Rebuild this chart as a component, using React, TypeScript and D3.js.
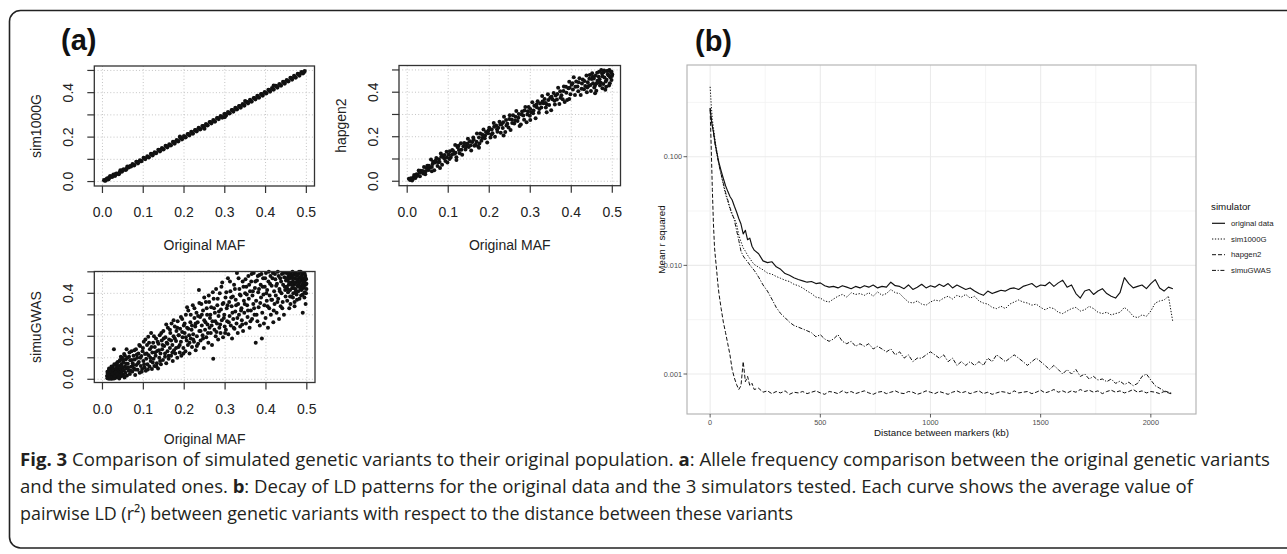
import React from "react";
import * as d3 from "d3";

const FONT = "'Liberation Sans', Arial, Helvetica, sans-serif";
const CAP_FONT = "'Open Sans', 'Noto Sans', sans-serif";

// ---------------- panel (a): allele frequency scatter plots ----------------
const mafTicks = [0, 0.1, 0.2, 0.3, 0.4, 0.5];
const mafTickLabelsX = ["0.0", "0.1", "0.2", "0.3", "0.4", "0.5"];
const mafTickLabelsY = ["0.0", "", "0.2", "", "0.4", ""];

const sim1000GPoints: [number, number][] = [
  [0.004,0.006],[0.008,0.005],[0.012,0.014],[0.015,0.010],[0.019,0.025],[0.023,0.021],[0.027,0.031],[0.031,0.026],[0.035,0.036],[0.040,0.033],
  [0.044,0.050],[0.048,0.045],[0.052,0.055],[0.057,0.052],[0.061,0.067],[0.065,0.064],[0.070,0.068],[0.074,0.079],[0.078,0.073],[0.083,0.089],
  [0.087,0.082],[0.092,0.095],[0.096,0.092],[0.101,0.107],[0.105,0.101],[0.110,0.113],[0.114,0.109],[0.119,0.125],[0.123,0.118],[0.128,0.131],
  [0.132,0.128],[0.137,0.143],[0.141,0.136],[0.146,0.150],[0.150,0.145],[0.155,0.161],[0.159,0.154],[0.164,0.167],[0.168,0.163],[0.173,0.179],
  [0.177,0.171],[0.182,0.186],[0.186,0.181],[0.191,0.197],[0.195,0.190],[0.200,0.205],[0.204,0.199],[0.209,0.214],[0.213,0.208],[0.218,0.224],
  [0.222,0.216],[0.227,0.231],[0.231,0.226],[0.236,0.242],[0.240,0.235],[0.245,0.250],[0.249,0.243],[0.254,0.259],[0.258,0.253],[0.263,0.268],
  [0.267,0.262],[0.272,0.277],[0.276,0.270],[0.281,0.286],[0.285,0.281],[0.290,0.295],[0.294,0.288],[0.299,0.304],[0.303,0.297],[0.308,0.313],
  [0.312,0.307],[0.317,0.322],[0.321,0.315],[0.326,0.332],[0.330,0.325],[0.335,0.340],[0.339,0.333],[0.344,0.349],[0.348,0.342],[0.353,0.358],
  [0.357,0.352],[0.362,0.368],[0.366,0.360],[0.371,0.376],[0.375,0.370],[0.380,0.386],[0.384,0.378],[0.389,0.394],[0.393,0.387],[0.398,0.403],
  [0.402,0.397],[0.407,0.413],[0.411,0.405],[0.416,0.421],[0.420,0.414],[0.425,0.431],[0.429,0.423],[0.434,0.439],[0.438,0.432],[0.443,0.449],
  [0.447,0.441],[0.452,0.457],[0.456,0.451],[0.461,0.467],[0.465,0.459],[0.470,0.476],[0.474,0.468],[0.479,0.485],[0.483,0.477],[0.488,0.492],
  [0.492,0.487],[0.496,0.497],
  [0.006,0.004],[0.010,0.011],[0.017,0.019],[0.025,0.023],[0.033,0.035],[0.042,0.040],[0.050,0.052],[0.059,0.057],[0.068,0.070],[0.076,0.074],
  [0.085,0.087],[0.094,0.092],[0.103,0.104],[0.112,0.110],[0.121,0.123],[0.130,0.128],[0.139,0.141],[0.148,0.146],[0.157,0.158],[0.166,0.164],
  [0.175,0.177],[0.184,0.182],[0.193,0.195],[0.202,0.200],[0.211,0.213],[0.220,0.218],[0.229,0.231],[0.238,0.236],[0.247,0.249],[0.256,0.254],
  [0.265,0.267],[0.274,0.272],[0.283,0.285],[0.292,0.290],[0.301,0.303],[0.310,0.308],[0.319,0.321],[0.328,0.326],[0.337,0.339],[0.346,0.344],
  [0.355,0.357],[0.364,0.362],[0.373,0.375],[0.382,0.380],[0.391,0.393],[0.400,0.398],[0.409,0.411],[0.418,0.416],[0.427,0.429],[0.436,0.434],
  [0.445,0.447],[0.454,0.452],[0.463,0.465],[0.472,0.470],[0.481,0.483],[0.490,0.488],[0.494,0.493],
  [0.190,0.202],[0.300,0.290],[0.420,0.432],[0.350,0.362],[0.250,0.238],
];

const hapgen2Points: [number, number][] = [
  [0.004,0.011],[0.007,0.0055],[0.009,0.014],[0.012,0.0036],[0.015,0.018],[0.017,0.028],[0.020,0.015],[0.023,0.031],[0.025,0.026],[0.028,0.048],
  [0.031,0.022],[0.033,0.047],[0.036,0.041],[0.039,0.035],[0.041,0.064],[0.044,0.031],[0.047,0.059],[0.049,0.070],[0.052,0.050],[0.055,0.061],
  [0.058,0.098],[0.060,0.064],[0.063,0.088],[0.066,0.049],[0.068,0.084],[0.071,0.105],[0.074,0.069],[0.077,0.099],[0.079,0.086],[0.082,0.125],
  [0.085,0.074],[0.087,0.115],[0.090,0.103],[0.093,0.091],[0.096,0.133],[0.098,0.084],[0.101,0.120],[0.104,0.135],[0.106,0.107],[0.109,0.119],
  [0.112,0.136],[0.115,0.123],[0.117,0.163],[0.120,0.108],[0.123,0.153],[0.126,0.140],[0.128,0.126],[0.131,0.171],[0.134,0.119],[0.137,0.157],
  [0.139,0.172],[0.142,0.143],[0.145,0.156],[0.148,0.191],[0.150,0.154],[0.153,0.180],[0.156,0.138],[0.159,0.176],[0.161,0.197],[0.164,0.159],
  [0.167,0.164],[0.170,0.214],[0.173,0.156],[0.175,0.197],[0.178,0.215],[0.181,0.182],[0.184,0.195],[0.186,0.233],[0.189,0.193],[0.192,0.221],
  [0.195,0.174],[0.197,0.216],[0.200,0.240],[0.203,0.196],[0.206,0.232],[0.208,0.216],[0.211,0.262],[0.214,0.200],[0.217,0.250],[0.219,0.234],
  [0.222,0.240],[0.225,0.267],[0.228,0.218],[0.230,0.256],[0.233,0.239],[0.236,0.290],[0.239,0.221],[0.241,0.275],[0.244,0.258],[0.247,0.241],
  [0.250,0.296],[0.252,0.230],[0.255,0.277],[0.258,0.296],[0.261,0.259],[0.263,0.273],[0.266,0.316],[0.269,0.271],[0.272,0.302],[0.274,0.248],
  [0.277,0.255],[0.280,0.313],[0.283,0.295],[0.285,0.276],[0.288,0.334],[0.291,0.265],[0.294,0.314],[0.296,0.333],[0.299,0.294],[0.302,0.310],
  [0.305,0.355],[0.307,0.306],[0.310,0.339],[0.313,0.283],[0.316,0.332],[0.318,0.359],[0.321,0.308],[0.324,0.349],[0.327,0.331],[0.329,0.383],
  [0.332,0.350],[0.335,0.370],[0.338,0.331],[0.340,0.346],[0.343,0.391],[0.346,0.343],[0.349,0.376],[0.351,0.319],[0.354,0.368],[0.357,0.396],
  [0.360,0.345],[0.362,0.385],[0.365,0.367],[0.368,0.420],[0.371,0.347],[0.373,0.404],[0.376,0.386],[0.379,0.368],[0.382,0.426],[0.384,0.356],
  [0.387,0.425],[0.390,0.365],[0.393,0.418],[0.395,0.447],[0.398,0.391],[0.401,0.434],[0.404,0.412],[0.406,0.467],[0.409,0.387],[0.412,0.448],
  [0.415,0.426],[0.417,0.404],[0.420,0.463],[0.423,0.388],[0.426,0.439],[0.428,0.457],[0.431,0.413],[0.434,0.428],[0.437,0.475],[0.439,0.421],
  [0.442,0.428],[0.445,0.477],[0.448,0.406],[0.450,0.459],[0.453,0.440],[0.456,0.421],[0.459,0.474],[0.461,0.407],[0.464,0.452],[0.467,0.469],
  [0.470,0.430],[0.472,0.443],[0.475,0.484],[0.478,0.437],[0.481,0.466],[0.483,0.411],[0.486,0.456],[0.489,0.481],[0.492,0.430],[0.495,0.467],
  [0.480,0.497],[0.490,0.496],[0.497,0.488],[0.485,0.425],[0.468,0.492],[0.498,0.455],[0.476,0.418],[0.463,0.487],[0.452,0.470],[0.458,0.395],
  [0.444,0.460],[0.493,0.500],[0.499,0.473],
  [0.014,0.010],[0.022,0.022],[0.030,0.038],[0.038,0.046],[0.045,0.045],[0.053,0.070],[0.062,0.078],[0.069,0.092],[0.076,0.085],[0.083,0.110],
  [0.091,0.118],[0.097,0.108],[0.103,0.100],[0.110,0.140],[0.118,0.128],[0.125,0.160],[0.132,0.142],[0.140,0.160],[0.147,0.170],[0.155,0.162],
  [0.162,0.188],[0.169,0.178],[0.176,0.170],[0.183,0.210],[0.190,0.205],[0.198,0.228],[0.205,0.210],[0.212,0.245],[0.220,0.222],[0.227,0.255],
  [0.234,0.265],[0.242,0.250],[0.249,0.280],[0.256,0.262],[0.264,0.290],[0.271,0.285],[0.279,0.300],[0.286,0.318],[0.293,0.300],[0.300,0.325],
  [0.308,0.318],[0.315,0.345],[0.322,0.325],[0.330,0.358],[0.337,0.352],[0.344,0.365],[0.352,0.380],[0.359,0.362],[0.366,0.392],[0.374,0.375],
  [0.381,0.405],[0.388,0.398],[0.396,0.420],[0.403,0.440],[0.410,0.425],[0.418,0.445],[0.425,0.415],[0.432,0.450],[0.440,0.445],[0.447,0.432],
  [0.455,0.462],[0.462,0.440],[0.469,0.458],[0.476,0.472],[0.484,0.448],[0.491,0.475],[0.498,0.492],[0.487,0.495],[0.473,0.500],[0.479,0.490],
  [0.466,0.445],[0.458,0.430],[0.438,0.400],[0.451,0.485],[0.500,0.480],[0.494,0.440],[0.175,0.150],[0.235,0.205],[0.300,0.275],[0.120,0.095],
  [0.080,0.060],[0.060,0.045],[0.340,0.310],[0.395,0.370],
];

const simuGWASPoints: [number, number][] = [
  [0.012,0.005],[0.013,0.028],[0.014,0.012],[0.015,0.040],[0.016,0.002],[0.017,0.020],[0.018,0.034],[0.019,0.008],[0.020,0.048],[0.021,0.016],
  [0.022,0.026],[0.023,0.003],[0.024,0.038],[0.025,0.058],[0.026,0.012],[0.027,0.030],[0.028,0.140],[0.029,0.020],[0.030,0.045],[0.031,0.006],
  [0.032,0.066],[0.033,0.024],[0.034,0.036],[0.035,0.010],[0.036,0.052],[0.037,0.080],[0.038,0.018],[0.039,0.040],[0.040,0.062],[0.041,0.004],
  [0.042,0.030],[0.043,0.090],[0.044,0.048],[0.045,0.014],[0.046,0.070],[0.047,0.035],[0.048,0.100],[0.049,0.055],[0.050,0.022],[0.051,0.078],
  [0.052,0.042],[0.053,0.118],[0.054,0.008],[0.055,0.060],[0.056,0.030],[0.057,0.092],[0.058,0.050],[0.059,0.140],[0.060,0.018],
  [0.062,0.072],[0.064,0.040],[0.065,0.105],[0.067,0.025],[0.068,0.088],[0.070,0.058],[0.071,0.130],[0.073,0.036],[0.074,0.075],[0.076,0.110],
  [0.077,0.050],[0.079,0.092],[0.080,0.020],[0.082,0.140],[0.083,0.066],[0.085,0.100],[0.086,0.044],[0.088,0.120],[0.089,0.080],[0.091,0.030],
  [0.092,0.155],[0.094,0.062],[0.095,0.108],[0.097,0.048],[0.098,0.130],[0.100,0.085],[0.101,0.175],[0.103,0.055],[0.104,0.118],[0.106,0.040],
  [0.107,0.095],[0.109,0.160],[0.110,0.070],[0.112,0.198],[0.113,0.112],[0.115,0.060],[0.116,0.140],[0.118,0.085],[0.119,0.215],[0.121,0.048],
  [0.122,0.125],[0.124,0.170],[0.125,0.095],[0.127,0.062],[0.128,0.150],[0.130,0.110],[0.131,0.190],[0.133,0.075],[0.134,0.132],[0.136,0.050],
  [0.137,0.165],[0.139,0.100],[0.140,0.205],[0.142,0.120],[0.143,0.070],[0.145,0.180],[0.146,0.140],[0.148,0.090],[0.149,0.225],
  [0.151,0.155],[0.153,0.105],[0.154,0.195],[0.156,0.075],[0.157,0.170],[0.159,0.130],[0.160,0.240],[0.162,0.095],[0.163,0.185],[0.165,0.145],
  [0.166,0.215],[0.168,0.110],[0.169,0.260],[0.171,0.160],[0.172,0.085],[0.174,0.200],[0.175,0.135],[0.177,0.245],[0.178,0.120],[0.180,0.178],
  [0.181,0.225],[0.183,0.100],[0.184,0.270],[0.186,0.150],[0.187,0.205],[0.189,0.125],[0.190,0.235],[0.192,0.175],[0.193,0.110],[0.195,0.280],
  [0.196,0.195],[0.198,0.145],[0.199,0.250],[0.201,0.215],[0.203,0.130],[0.204,0.300],[0.206,0.180],[0.207,0.240],[0.209,0.160],[0.210,0.320],
  [0.212,0.205],[0.213,0.120],[0.215,0.265],[0.216,0.190],[0.218,0.230],[0.219,0.150],[0.221,0.345],[0.222,0.210],[0.224,0.175],[0.225,0.285],
  [0.227,0.245],[0.228,0.135],[0.230,0.310],[0.231,0.200],[0.233,0.265],[0.234,0.165],[0.236,0.415],[0.237,0.225],[0.239,0.290],[0.240,0.180],
  [0.242,0.350],[0.243,0.250],[0.245,0.205],[0.246,0.320],[0.248,0.145],[0.249,0.275],
  [0.251,0.230],[0.253,0.360],[0.254,0.195],[0.256,0.300],[0.257,0.255],[0.259,0.170],[0.260,0.390],[0.262,0.240],[0.263,0.285],[0.265,0.215],
  [0.266,0.335],[0.268,0.160],[0.269,0.270],[0.271,0.095],[0.272,0.375],[0.274,0.230],[0.275,0.310],[0.277,0.200],[0.278,0.420],[0.280,0.260],
  [0.281,0.345],[0.283,0.185],[0.284,0.295],[0.286,0.240],[0.287,0.400],[0.289,0.215],[0.290,0.325],[0.292,0.275],[0.293,0.450],[0.295,0.195],
  [0.296,0.355],[0.298,0.300],[0.299,0.245],[0.301,0.380],[0.302,0.230],[0.304,0.330],[0.305,0.270],[0.307,0.470],[0.308,0.210],[0.310,0.360],
  [0.311,0.295],[0.313,0.410],[0.314,0.250],[0.316,0.340],[0.317,0.190],[0.319,0.385],[0.320,0.280],[0.322,0.440],[0.323,0.235],[0.325,0.315],
  [0.326,0.370],[0.328,0.260],[0.329,0.495],[0.331,0.215],[0.332,0.350],[0.334,0.300],[0.335,0.420],[0.337,0.245],[0.338,0.390],[0.340,0.330],
  [0.341,0.275],[0.343,0.455],[0.344,0.225],[0.346,0.365],[0.347,0.310],[0.349,0.400],
  [0.351,0.260],[0.352,0.430],[0.354,0.345],[0.355,0.290],[0.357,0.480],[0.358,0.375],[0.360,0.240],[0.361,0.410],[0.363,0.320],[0.364,0.455],
  [0.366,0.280],[0.367,0.390],[0.369,0.350],[0.370,0.495],[0.372,0.300],[0.373,0.425],[0.375,0.170],[0.376,0.365],[0.378,0.460],[0.379,0.270],
  [0.381,0.405],[0.382,0.335],[0.384,0.485],[0.385,0.250],[0.387,0.440],[0.388,0.380],[0.390,0.190],[0.391,0.310],[0.393,0.470],[0.394,0.395],
  [0.396,0.345],[0.397,0.430],[0.399,0.285],[0.400,0.495],[0.402,0.365],[0.403,0.415],[0.405,0.240],[0.406,0.455],[0.408,0.330],[0.409,0.390],
  [0.411,0.480],[0.412,0.300],[0.414,0.435],[0.415,0.370],[0.417,0.495],[0.418,0.265],[0.420,0.410],[0.421,0.350],[0.423,0.465],[0.424,0.390],
  [0.426,0.310],[0.427,0.445],[0.429,0.500],[0.430,0.375],[0.432,0.280],[0.433,0.420],[0.435,0.470],[0.436,0.340],[0.438,0.400],[0.439,0.490],
  [0.441,0.360],[0.442,0.440],[0.444,0.300],[0.445,0.475],[0.447,0.415],[0.448,0.385],
  [0.450,0.495],[0.451,0.430],[0.452,0.365],[0.453,0.460],[0.454,0.405],[0.455,0.480],[0.456,0.440],[0.457,0.330],[0.458,0.470],[0.459,0.415],
  [0.460,0.490],[0.461,0.450],[0.462,0.385],[0.463,0.475],[0.464,0.425],[0.465,0.500],[0.466,0.455],[0.467,0.400],[0.468,0.485],[0.469,0.440],
  [0.470,0.360],[0.471,0.470],[0.472,0.420],[0.473,0.495],[0.474,0.450],[0.475,0.395],[0.476,0.480],[0.477,0.435],[0.478,0.465],[0.479,0.410],
  [0.480,0.490],[0.481,0.445],[0.482,0.375],[0.483,0.475],[0.484,0.430],[0.485,0.500],[0.486,0.460],[0.487,0.415],[0.488,0.485],[0.489,0.440],
  [0.490,0.395],[0.491,0.470],[0.492,0.425],[0.493,0.495],[0.494,0.455],[0.495,0.405],[0.496,0.480],[0.497,0.440],[0.498,0.465],[0.499,0.420],
  [0.490,0.310],[0.497,0.350],[0.470,0.340],[0.460,0.350],
  [0.011,0.015],[0.012,0.035],[0.014,0.022],[0.015,0.008],[0.016,0.050],[0.018,0.016],[0.019,0.028],[0.020,0.004],[0.021,0.036],[0.022,0.060],
  [0.024,0.010],[0.025,0.025],[0.026,0.045],[0.028,0.004],[0.029,0.070],[0.030,0.015],[0.032,0.032],[0.033,0.050],[0.035,0.075],[0.036,0.025],
  [0.038,0.060],[0.040,0.010],[0.042,0.085],[0.044,0.020],[0.045,0.105],[0.047,0.058],[0.050,0.090],[0.052,0.015],[0.055,0.110],[0.058,0.072],
  [0.061,0.100],[0.063,0.055],[0.066,0.125],[0.069,0.040],[0.072,0.090],[0.075,0.065],[0.078,0.135],[0.081,0.045],[0.084,0.115],[0.087,0.075],
  [0.090,0.160],[0.093,0.100],[0.096,0.035],[0.099,0.145],[0.102,0.070],[0.105,0.185],[0.108,0.120],[0.111,0.045],[0.114,0.170],[0.117,0.100],
  [0.120,0.150],[0.123,0.078],[0.126,0.200],[0.129,0.125],[0.132,0.060],[0.135,0.175],[0.138,0.135],[0.141,0.085],[0.144,0.215],[0.147,0.160],
  [0.150,0.190],[0.153,0.120],[0.156,0.255],[0.159,0.165],[0.162,0.110],[0.165,0.230],[0.168,0.180],[0.171,0.125],[0.174,0.275],[0.177,0.190],
  [0.180,0.145],[0.183,0.240],[0.186,0.205],[0.189,0.160],[0.192,0.290],[0.195,0.220],[0.198,0.120],[0.201,0.260],[0.204,0.195],[0.207,0.335],
  [0.210,0.235],[0.213,0.170],[0.216,0.300],[0.219,0.250],[0.222,0.185],[0.225,0.330],[0.228,0.260],[0.231,0.155],[0.234,0.295],[0.237,0.355],
  [0.240,0.225],[0.243,0.300],[0.246,0.190],[0.249,0.380],
  [0.252,0.265],[0.255,0.330],[0.258,0.215],[0.261,0.360],[0.264,0.300],[0.267,0.250],[0.270,0.405],[0.273,0.330],[0.276,0.270],[0.279,0.220],
  [0.282,0.375],[0.285,0.315],[0.288,0.255],[0.291,0.430],[0.294,0.350],[0.297,0.285],[0.300,0.215],[0.303,0.405],[0.306,0.345],[0.309,0.265],
  [0.312,0.455],[0.315,0.380],[0.318,0.310],[0.321,0.240],[0.324,0.420],[0.327,0.345],[0.330,0.285],[0.333,0.470],[0.336,0.395],[0.339,0.320],
  [0.342,0.255],[0.345,0.430],[0.348,0.350],
  [0.350,0.465],[0.353,0.395],[0.356,0.320],[0.359,0.440],[0.362,0.270],[0.365,0.490],[0.368,0.410],[0.371,0.330],[0.374,0.455],[0.377,0.300],
  [0.380,0.480],[0.383,0.420],[0.386,0.355],[0.389,0.490],[0.392,0.430],[0.395,0.260],[0.398,0.470],[0.401,0.400],[0.404,0.340],[0.407,0.500],
  [0.410,0.445],[0.413,0.370],[0.416,0.470],[0.419,0.320],[0.422,0.490],[0.425,0.435],[0.428,0.360],[0.431,0.480],[0.434,0.410],[0.437,0.455],
  [0.440,0.330],[0.443,0.495],[0.446,0.430],[0.449,0.460],
  [0.451,0.470],[0.453,0.420],[0.455,0.495],[0.457,0.450],[0.459,0.385],[0.461,0.480],[0.463,0.440],[0.465,0.470],[0.467,0.425],[0.469,0.495],
  [0.471,0.450],[0.473,0.410],[0.475,0.485],[0.477,0.460],[0.479,0.430],[0.481,0.500],[0.483,0.455],[0.485,0.420],[0.487,0.475],[0.489,0.495],
  [0.491,0.450],[0.493,0.430],[0.495,0.490],[0.497,0.470],[0.499,0.445],[0.486,0.390],[0.476,0.370],[0.466,0.380],[0.494,0.380],[0.498,0.400],
];

// ---------------- panel (b): LD decay ----------------
const distanceKb = [
  0, 5, 10, 15, 20, 25, 30, 35, 40, 50, 60, 70, 80, 90, 100, 110, 120, 130, 140, 150, 160, 170, 180, 190, 200,
  220, 240, 260, 280, 300, 320, 340, 360, 380, 400,
  420, 440, 460, 480, 500, 520, 540, 560, 580, 600,
  620, 640, 660, 680, 700, 720, 740, 760, 780, 800,
  820, 840, 860, 880, 900, 920, 940, 960, 980, 1000,
  1020, 1040, 1060, 1080, 1100, 1120, 1140, 1160, 1180, 1200,
  1220, 1240, 1260, 1280, 1300, 1320, 1340, 1360, 1380, 1400,
  1420, 1440, 1460, 1480, 1500, 1520, 1540, 1560, 1580, 1600,
  1620, 1640, 1660, 1680, 1700, 1720, 1740, 1760, 1780, 1800,
  1820, 1840, 1860, 1880, 1900, 1920, 1940, 1960, 1980, 2000,
  2020, 2040, 2060, 2080, 2100,
];

const originalData = [
  0.28, 0.22, 0.19, 0.17, 0.145, 0.125, 0.111, 0.098, 0.088, 0.074, 0.063, 0.054, 0.048, 0.043, 0.040, 0.035, 0.031, 0.027, 0.024, 0.0195, 0.021, 0.0172, 0.0178, 0.0150, 0.0138,
  0.0128, 0.0110, 0.0106, 0.0108, 0.0097, 0.0092, 0.0084, 0.0081, 0.0077, 0.0074,
  0.0072, 0.0070, 0.0071, 0.0068, 0.0069, 0.0065, 0.0063, 0.0064, 0.0062, 0.0065,
  0.0063, 0.0061, 0.0064, 0.0062, 0.0065, 0.0063, 0.0066, 0.0062, 0.0064, 0.0063,
  0.0070, 0.0065, 0.0064, 0.0061, 0.0066, 0.0060, 0.0063, 0.0067, 0.0062, 0.0065,
  0.0063, 0.0067, 0.0064, 0.0068, 0.0062, 0.0066, 0.0063, 0.0060, 0.0062, 0.0058,
  0.0055, 0.0053, 0.0058, 0.0055, 0.0057, 0.0059, 0.0058, 0.0061, 0.0062, 0.0060,
  0.0064, 0.0066, 0.0068, 0.0063, 0.0066, 0.0065, 0.0070, 0.0064, 0.0069, 0.0073,
  0.0063, 0.0066, 0.0055, 0.0050, 0.0058, 0.0060, 0.0054, 0.0058, 0.0061, 0.0055,
  0.0052, 0.0050, 0.0056, 0.0077, 0.0068, 0.0062, 0.0064, 0.0066, 0.0061, 0.0068,
  0.0074, 0.0062, 0.0058, 0.0063, 0.0061,
];

const sim1000G = [
  0.44, 0.30, 0.22, 0.185, 0.155, 0.13, 0.113, 0.098, 0.085, 0.068, 0.055, 0.045, 0.039, 0.033, 0.029, 0.027, 0.024, 0.019, 0.0165, 0.0145, 0.0135, 0.0124, 0.0116, 0.0108, 0.0102,
  0.0096, 0.0091, 0.0085, 0.0083, 0.0079, 0.0076, 0.0073, 0.0071, 0.0067, 0.0065,
  0.0062, 0.0058, 0.0055, 0.0051, 0.0050, 0.0047, 0.0046, 0.0049, 0.0052, 0.0054,
  0.0051, 0.0056, 0.0054, 0.0055, 0.0053, 0.0056, 0.0052, 0.0057, 0.0053, 0.0055,
  0.0060, 0.0056, 0.0055, 0.0050, 0.0046, 0.0045, 0.0047, 0.0044, 0.0043, 0.0046,
  0.0048, 0.0047, 0.0050, 0.0052, 0.0049, 0.0053, 0.0051, 0.0054, 0.0050, 0.0052,
  0.0047, 0.0045, 0.0044, 0.0041, 0.0040, 0.0042, 0.0040, 0.0044, 0.0046, 0.0048,
  0.0046, 0.0045, 0.0043, 0.0044, 0.0041, 0.0039, 0.0041, 0.0040, 0.0037, 0.0036,
  0.0038, 0.0040, 0.0041, 0.0038, 0.0039, 0.0042, 0.0040, 0.0037, 0.0036, 0.0037,
  0.0035, 0.0036, 0.0037, 0.0041, 0.0038, 0.0034, 0.0033, 0.0035, 0.0034, 0.0038,
  0.0045, 0.0047, 0.0048, 0.0052, 0.0030,
];

const hapgen2 = [
  0.27, 0.12, 0.05, 0.024, 0.0145, 0.0112, 0.0088, 0.0068, 0.0055, 0.0040, 0.0030, 0.0024, 0.0019, 0.0015, 0.0011, 0.00092, 0.00080, 0.00072, 0.00078, 0.0013, 0.00085, 0.00095, 0.00078, 0.00082, 0.00072,
  0.00074, 0.00068, 0.00070, 0.00066, 0.00069, 0.00067, 0.00070, 0.00065, 0.00068, 0.00067,
  0.00069, 0.00066, 0.00068, 0.00070, 0.00067, 0.00065, 0.00069, 0.00068, 0.00066, 0.00070,
  0.00067, 0.00069, 0.00066, 0.00068, 0.00070, 0.00067, 0.00065, 0.00068, 0.00069, 0.00066,
  0.00068, 0.00070, 0.00067, 0.00066, 0.00069, 0.00068, 0.00065, 0.00067, 0.00070, 0.00068,
  0.00066, 0.00069, 0.00067, 0.00065, 0.00068, 0.00070, 0.00067, 0.00069, 0.00066, 0.00068,
  0.00070, 0.00066, 0.00068, 0.00065, 0.00067, 0.00069, 0.00068, 0.00066, 0.00070, 0.00067,
  0.00068, 0.00069, 0.00066, 0.00068, 0.00071, 0.00067, 0.00069, 0.00072, 0.00068, 0.00070,
  0.00067, 0.00070, 0.00068, 0.00072, 0.00069, 0.00071, 0.00068, 0.00070, 0.00066, 0.00069,
  0.00071, 0.00068, 0.00070, 0.00067, 0.00069, 0.00072, 0.00068, 0.00070, 0.00067, 0.00069,
  0.00068, 0.00066, 0.00069, 0.00067, 0.00065,
];

const simuGWAS = [
  0.28, 0.23, 0.195, 0.165, 0.14, 0.12, 0.107, 0.095, 0.084, 0.069, 0.057, 0.047, 0.040, 0.034, 0.030, 0.026, 0.021, 0.017, 0.0135, 0.0122, 0.0114, 0.0108, 0.0101, 0.0095, 0.0090,
  0.0078, 0.0066, 0.0058, 0.0049, 0.0041, 0.0036, 0.0033, 0.0030, 0.0028, 0.0027,
  0.0026, 0.0025, 0.0024, 0.0022, 0.0023, 0.0021, 0.0020, 0.0021, 0.0023, 0.0020,
  0.0019, 0.0020, 0.0018, 0.0019, 0.0018, 0.0019, 0.0017, 0.0018, 0.0017, 0.0016,
  0.0017, 0.0015, 0.0016, 0.0014, 0.0015, 0.0013, 0.0014, 0.0014, 0.0015, 0.0016,
  0.0015, 0.0014, 0.0015, 0.0013, 0.0014, 0.0012, 0.0013, 0.0012, 0.0013, 0.0012,
  0.0013, 0.0012, 0.0014, 0.0013, 0.0015, 0.0014, 0.0013, 0.0014, 0.0015, 0.0014,
  0.0013, 0.0012, 0.0013, 0.0014, 0.0013, 0.0012, 0.0011, 0.0012, 0.0011, 0.0010,
  0.0011, 0.0010, 0.0011, 0.00095, 0.0010, 0.00090, 0.00095, 0.00088, 0.00090, 0.00085,
  0.00090, 0.00082, 0.00086, 0.00080, 0.00084, 0.00078, 0.00082, 0.00095, 0.00100, 0.00088,
  0.00078, 0.00074, 0.00070, 0.00068, 0.00066,
];

const simulatorNames = ["original data", "sim1000G", "hapgen2", "simuGWAS"];
const simulatorSeries = [originalData, sim1000G, hapgen2, simuGWAS];
const simulatorDash = ["none", "1.3,1.6", "4,2", "4,1.6,1.2,1.6"];
const distBreaks = [0, 500, 1000, 1500, 2000];
const distMinor = [250, 750, 1250, 1750];
const r2Breaks = [0.1, 0.01, 0.001];
const r2BreakLabels = ["0.100", "0.010", "0.001"];
const r2Minor = [Math.pow(10, -0.5), Math.pow(10, -1.5), Math.pow(10, -2.5)];

// ---------------- components ----------------
type Box = { l: number; r: number; t: number; b: number };

function Scatter({ box, yDomain, points, ylab, r, labGap, titleGap }: { box: Box; yDomain: [number, number]; points: [number, number][]; ylab: string; r: number; labGap: number; titleGap: number }) {
  const x = d3.scaleLinear().domain([-0.02, 0.52]).range([box.l, box.r]);
  const y = d3.scaleLinear().domain(yDomain).range([box.b, box.t]);
  const tk = 7;
  const axisCol = "#333";
  return (
    <g fontFamily={FONT} fill="#222">
      {mafTicks.map((t) => (
        <line key={"gx" + t} x1={x(t)} x2={x(t)} y1={box.t} y2={box.b} stroke="#c4c4c4" strokeWidth={1} strokeDasharray="1,2.2" />
      ))}
      {mafTicks.map((t) => (
        <line key={"gy" + t} x1={box.l} x2={box.r} y1={y(t)} y2={y(t)} stroke="#c4c4c4" strokeWidth={1} strokeDasharray="1,2.2" />
      ))}
      {points.map((p, i) => (
        <circle key={i} cx={x(p[0])} cy={y(p[1])} r={r} fill="#111" />
      ))}
      <rect x={box.l} y={box.t} width={box.r - box.l} height={box.b - box.t} fill="none" stroke={axisCol} strokeWidth={1.3} />
      {mafTicks.map((t) => (
        <line key={"tx" + t} x1={x(t)} x2={x(t)} y1={box.b} y2={box.b + tk} stroke={axisCol} strokeWidth={1.2} />
      ))}
      {mafTicks.map((t, i) => (
        <text key={"lx" + t} x={x(t)} y={box.b + labGap} textAnchor="middle" fontSize={14}>{mafTickLabelsX[i]}</text>
      ))}
      <text x={(box.l + box.r) / 2} y={box.b + titleGap} textAnchor="middle" fontSize={14}>Original MAF</text>
      {mafTicks.map((t) => (
        <line key={"ty" + t} x1={box.l - tk} x2={box.l} y1={y(t)} y2={y(t)} stroke={axisCol} strokeWidth={1.2} />
      ))}
      {mafTicks.map((t, i) =>
        mafTickLabelsY[i] ? (
          <text key={"ly" + t} transform={`translate(${box.l - 26},${y(t)}) rotate(-90)`} textAnchor="middle" dy="0.36em" fontSize={14}>
            {mafTickLabelsY[i]}
          </text>
        ) : null
      )}
      <text transform={`translate(${box.l - 58},${(box.t + box.b) / 2}) rotate(-90)`} textAnchor="middle" dy="0.36em" fontSize={14}>
        {ylab}
      </text>
    </g>
  );
}

function LDPanel() {
  const P = { l: 687, r: 1196, t: 65, b: 414 };
  const x = d3.scaleLinear().domain([-105, 2205]).range([P.l, P.r]);
  const y = d3.scaleLog().domain([Math.pow(10, -3.368), Math.pow(10, -0.156)]).range([P.b, P.t]);
  const line = d3
    .line<number>()
    .defined((v) => v != null && !isNaN(v))
    .x((_, i) => x(distanceKb[i]))
    .y((v) => y(v));
  const tickCol = "#4d4d4d";
  const legX = 1211;
  const legY = [223.3, 239, 254.7, 270.4];
  return (
    <g fontFamily={FONT}>
      <rect x={P.l} y={P.t} width={P.r - P.l} height={P.b - P.t} fill="#fff" />
      {distMinor.map((d) => (
        <line key={"mx" + d} x1={x(d)} x2={x(d)} y1={P.t} y2={P.b} stroke="#f2f2f2" strokeWidth={0.8} />
      ))}
      {r2Minor.map((d, i) => (
        <line key={"my" + i} x1={P.l} x2={P.r} y1={y(d)} y2={y(d)} stroke="#f2f2f2" strokeWidth={0.8} />
      ))}
      {distBreaks.map((d) => (
        <line key={"gx" + d} x1={x(d)} x2={x(d)} y1={P.t} y2={P.b} stroke="#ebebeb" strokeWidth={1.1} />
      ))}
      {r2Breaks.map((d) => (
        <line key={"gy" + d} x1={P.l} x2={P.r} y1={y(d)} y2={y(d)} stroke="#ebebeb" strokeWidth={1.1} />
      ))}
      {simulatorSeries.map((s, k) => (
        <path
          key={simulatorNames[k]}
          d={line(s) || ""}
          fill="none"
          stroke="#111"
          strokeWidth={k === 0 ? 1.15 : 1}
          strokeDasharray={simulatorDash[k] === "none" ? undefined : simulatorDash[k]}
          strokeLinejoin="round"
        />
      ))}
      <rect x={P.l} y={P.t} width={P.r - P.l} height={P.b - P.t} fill="none" stroke="#b0b0b0" strokeWidth={1.1} />
      {distBreaks.map((d) => (
        <g key={"tx" + d}>
          <line x1={x(d)} x2={x(d)} y1={P.b} y2={P.b + 3.5} stroke="#333" strokeWidth={0.8} />
          <text x={x(d)} y={P.b + 10.5} textAnchor="middle" fontSize={7.3} fill={tickCol}>{d}</text>
        </g>
      ))}
      {r2Breaks.map((d, i) => (
        <g key={"ty" + d}>
          <line x1={P.l - 3.5} x2={P.l} y1={y(d)} y2={y(d)} stroke="#333" strokeWidth={0.8} />
          <text x={P.l - 5} y={y(d)} dy="0.35em" textAnchor="end" fontSize={7.3} fill={tickCol}>{r2BreakLabels[i]}</text>
        </g>
      ))}
      <text x={(P.l + P.r) / 2} y={436} textAnchor="middle" fontSize={9.75} fill="#111">Distance between markers (kb)</text>
      <text transform={`translate(662,${(P.t + P.b) / 2}) rotate(-90)`} textAnchor="middle" dy="0.35em" fontSize={9.75} fill="#111">
        Mean r squared
      </text>
      <text x={legX} y={210} fontSize={9.75} fill="#111">simulator</text>
      {simulatorNames.map((nm, k) => (
        <g key={"leg" + nm}>
          <line
            x1={legX + 1}
            x2={legX + 14}
            y1={legY[k]}
            y2={legY[k]}
            stroke="#111"
            strokeWidth={k === 0 ? 1.2 : 1}
            strokeDasharray={simulatorDash[k] === "none" ? undefined : simulatorDash[k]}
          />
          <text x={legX + 20} y={legY[k]} dy="0.35em" fontSize={7.8} fill="#222">{nm}</text>
        </g>
      ))}
    </g>
  );
}

export default function App() {
  const W = 1287;
  const H = 554;
  return (
    <svg width={W} height={H} viewBox={`0 0 ${W} ${H}`} style={{ position: "absolute", left: 0, top: 0, background: "#fff" }}>
      <rect x={0} y={0} width={W} height={H} fill="#fff" />
      <rect x={9.5} y={10.5} width={1300} height={537.5} rx={11} ry={11} fill="none" stroke="#222" strokeWidth={1.6} />

      <text x={61} y={49.5} fontFamily={FONT} fontWeight={700} fontSize={29} fill="#111">(a)</text>
      <text x={695} y={50.5} fontFamily={FONT} fontWeight={700} fontSize={29} fill="#111">(b)</text>

      <Scatter box={{ l: 94.3, r: 314.5, t: 66, b: 186 }} yDomain={[-0.02, 0.52]} points={sim1000GPoints} ylab="sim1000G" r={2.1} labGap={31} titleGap={64} />
      <Scatter box={{ l: 399, r: 620.5, t: 65.5, b: 185.7 }} yDomain={[-0.02, 0.52]} points={hapgen2Points} ylab="hapgen2" r={2.0} labGap={31} titleGap={64} />
      <Scatter box={{ l: 94.3, r: 315, t: 271.5, b: 382.5 }} yDomain={[-0.015, 0.5015]} points={simuGWASPoints} ylab="simuGWAS" r={2.0} labGap={31} titleGap={61} />

      <LDPanel />

      <g fontFamily={CAP_FONT} fontSize={18.5} fill="#231f20">
        <text x={20} y={466} textLength={1250} lengthAdjust="spacingAndGlyphs">
          <tspan fontWeight={700}>Fig. 3</tspan> Comparison of simulated genetic variants to their original population. <tspan fontWeight={700}>a</tspan>: Allele frequency comparison between the original genetic variants
        </text>
        <text x={20} y={493} textLength={1173} lengthAdjust="spacingAndGlyphs">
          and the simulated ones. <tspan fontWeight={700}>b</tspan>: Decay of LD patterns for the original data and the 3 simulators tested. Each curve shows the average value of
        </text>
        <text x={20} y={520} textLength={773} lengthAdjust="spacingAndGlyphs">
          pairwise LD (r²) between genetic variants with respect to the distance between these variants
        </text>
      </g>
    </svg>
  );
}
